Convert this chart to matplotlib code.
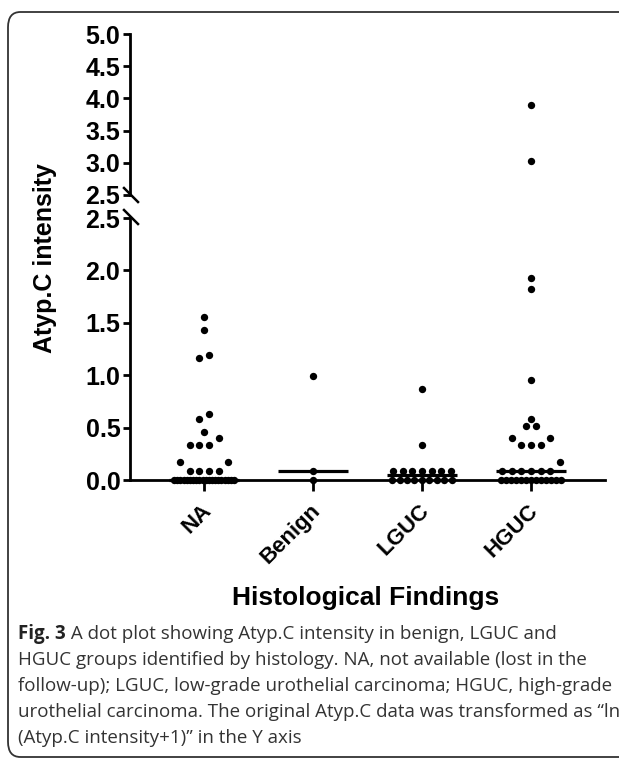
import numpy as np
import matplotlib
matplotlib.use('Agg')
import matplotlib.pyplot as plt
import matplotlib.transforms as mtransforms
from matplotlib.patches import FancyBboxPatch
from matplotlib.lines import Line2D

# values (ln(Atyp.C intensity + 1))
categories = ['NA', 'Benign', 'LGUC', 'HGUC']
na_vals = [1.56, 1.43, 1.19, 1.16, 0.63, 0.58, 0.46, 0.40, 0.33, 0.33, 0.33,
           0.17, 0.17, 0.09, 0.09, 0.09, 0.09,
           0.0, 0.0, 0.0, 0.0, 0.0, 0.0, 0.0, 0.0, 0.0, 0.0,
           0.0, 0.0, 0.0, 0.0, 0.0, 0.0, 0.0, 0.0, 0.0, 0.0]
benign_vals = [0.99, 0.09, 0.0]
lguc_vals = [0.87, 0.33, 0.09, 0.09, 0.09, 0.09, 0.09, 0.09, 0.09,
             0.0, 0.0, 0.0, 0.0, 0.0, 0.0, 0.0, 0.0, 0.0]
hguc_vals = [3.89, 3.03, 1.93, 1.82, 0.95, 0.58, 0.52, 0.52, 0.40, 0.40,
             0.33, 0.33, 0.33, 0.17, 0.09, 0.09, 0.09, 0.09, 0.09, 0.09,
             0.0, 0.0, 0.0, 0.0, 0.0, 0.0, 0.0, 0.0, 0.0, 0.0, 0.0, 0.0, 0.0]
groups = [na_vals, benign_vals, lguc_vals, hguc_vals]

lower_ticks = [0.0, 0.5, 1.0, 1.5, 2.0, 2.5]
upper_ticks = [2.5, 3.0, 3.5, 4.0, 4.5, 5.0]

caption_lines = [
    "HGUC groups identified by histology. NA, not available (lost in the",
    "follow-up); LGUC, low-grade urothelial carcinoma; HGUC, high-grade",
    "urothelial carcinoma. The original Atyp.C data was transformed as \u201cln",
    "(Atyp.C intensity+1)\u201d in the Y axis",
]


def swarm_offsets(vals, bin_h=0.13, bin_start=0.05, step=0.089, max_w=0.55):
    # prism-like rows: dots in one row spread out from the centre
    vals = np.asarray(vals, dtype=float)
    keys = np.where(vals < bin_start, -1, np.floor((vals - bin_start) / bin_h))
    xs = np.zeros(len(vals))
    for k in np.unique(keys):
        idx = np.where(keys == k)[0]
        idx = idx[np.argsort(vals[idx], kind='stable')]
        n = len(idx)
        s = step if n < 2 else min(step, max_w / (n - 1))
        slots = sorted(np.arange(n) - (n - 1) / 2, key=lambda p: (abs(p), p))
        for i, p in zip(idx, slots):
            xs[i] = p * s
    return xs


W, H = 619, 763
fig = plt.figure(figsize=(W / 100, H / 100), dpi=100)
plt.rcParams['font.family'] = ['Liberation Sans', 'DejaVu Sans']

# frame round the whole panel
fig.patches.append(FancyBboxPatch((8 / W, 6 / H), 640 / W, 745 / H,
                                  boxstyle='round,pad=0,rounding_size=0.02',
                                  transform=fig.transFigure, fill=False,
                                  ec='#333333', lw=1.3))

left, right = 130 / W, 605 / W
y0, y25lo = 1 - 480 / H, 1 - 218 / H
y25hi, y5 = 1 - 195 / H, 1 - 34 / H
ax_lo = fig.add_axes([left, y0, right - left, y25lo - y0])
ax_hi = fig.add_axes([left, y25hi, right - left, y5 - y25hi])

ytick_fs = 18
xtick_fs = 16

for ax in (ax_lo, ax_hi):
    ax.set_xlim(-0.68, 3.68)
    ax.spines['top'].set_visible(False)
    ax.spines['right'].set_visible(False)
    for sp in ax.spines.values():
        sp.set_linewidth(2.0)
    ax.tick_params(axis='y', width=2.0, length=5, pad=2)

ax_lo.set_ylim(0, 2.5)
ax_hi.set_ylim(2.5, 5.0)
ax_hi.spines['bottom'].set_visible(False)
ax_hi.set_xticks([])

ax_lo.set_yticks(lower_ticks)
ax_lo.set_yticklabels([f'{t:.1f}' for t in lower_ticks], fontweight='bold', fontsize=ytick_fs)
ax_hi.set_yticks(upper_ticks)
ax_hi.set_yticklabels([f'{t:.1f}' for t in upper_ticks], fontweight='bold', fontsize=ytick_fs)

ax_lo.set_xticks(range(len(categories)))
ax_lo.set_xticklabels(categories, fontweight='bold', fontsize=xtick_fs)
ax_lo.tick_params(axis='x', width=2.0, length=8, pad=12)
shift = mtransforms.ScaledTranslation(4 / 100, 0, fig.dpi_scale_trans)
for lab in ax_lo.get_xticklabels():
    lab.set_rotation(45)
    lab.set_ha('right')
    lab.set_va('center')
    lab.set_rotation_mode('anchor')
    lab.set_transform(lab.get_transform() + shift)

for i, vals in enumerate(groups):
    vals = np.asarray(vals)
    offs = swarm_offsets(vals)
    lo = vals <= 2.5
    ax_lo.scatter(i + offs[lo], vals[lo], s=28, color='black', zorder=5,
                  clip_on=False, linewidths=0)
    if (~lo).any():
        ax_hi.scatter(i + offs[~lo], vals[~lo], s=28, color='black', zorder=5,
                      clip_on=False, linewidths=0)
    med = np.median(vals)
    ax_lo.hlines(med, i - 0.325, i + 0.325, color='black', lw=2.3, zorder=4,
                 clip_on=False)

# break marks on the y axis
for yc in (195, 217):
    fig.add_artist(Line2D([124 / W, 138 / W], [1 - (yc - 7) / H, 1 - (yc + 7) / H],
                          transform=fig.transFigure, color='black', lw=1.8))

fig.text(45 / W, 1 - 258 / H, 'Atyp.C intensity', rotation=90, ha='center',
         va='center', fontsize=18, fontweight='bold')
fig.text(366 / W, 1 - 598 / H, 'Histological Findings', ha='center',
         va='center', fontsize=19, fontweight='bold')

# caption
cap_x, cap_y0, cap_dy = 18, 634, 26
cap_fs = 13.5
cap_font = ['Open Sans', 'DejaVu Sans']
t = fig.text(cap_x / W, 1 - cap_y0 / H, 'Fig. 3', ha='left', va='center',
             fontsize=cap_fs, fontweight='bold', family=cap_font, color='#222222')
fig.canvas.draw()
bb = t.get_window_extent(renderer=fig.canvas.get_renderer())
fig.text(bb.x1 / W, 1 - cap_y0 / H,
         ' A dot plot showing Atyp.C intensity in benign, LGUC and',
         ha='left', va='center', fontsize=cap_fs, family=cap_font, color='#333333')
for k, line in enumerate(caption_lines, start=1):
    fig.text(cap_x / W, 1 - (cap_y0 + k * cap_dy) / H, line, ha='left',
             va='center', fontsize=cap_fs, family=cap_font, color='#333333')

fig.savefig('out.png', dpi=100)
